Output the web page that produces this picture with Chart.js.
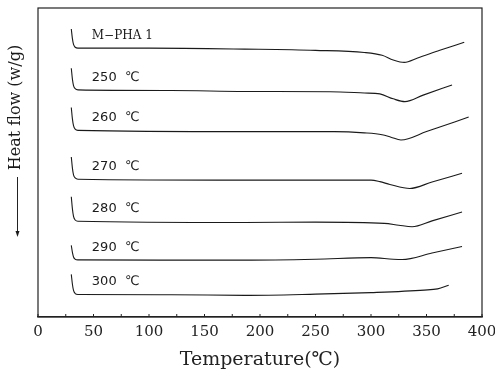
<!DOCTYPE html>
<html>
<head>
<meta charset="utf-8">
<script src="https://cdn.jsdelivr.net/npm/chart.js@4.4.1/dist/chart.umd.min.js"></script>
<style>
  html, body { margin: 0; padding: 0; background: #fff; }
  #wrap { width: 495px; height: 371px; }
</style>
</head>
<body>
<div id="wrap"><canvas id="dscChart"></canvas></div>
<script>
// DSC heating scans, curves stacked with an arbitrary heat-flow offset
const sampleNames = ['M\u2212PHA 1', '250  \u2103', '260  \u2103', '270  \u2103', '280  \u2103', '290  \u2103', '300  \u2103'];

const mpha1Temp = [30, 31, 32, 33.5, 36, 100, 186, 250, 294, 310, 320, 330, 342, 362, 384];
const mpha1Flow = [93.2, 90.1, 88.2, 87.3, 87.0, 87.0, 86.7, 86.3, 85.6, 84.7, 83.2, 82.4, 83.8, 86.3, 88.9];

const t250Temp = [30, 31, 32, 33.5, 36, 120, 186, 263, 294, 308, 320, 330.5, 347, 373];
const t250Flow = [80.5, 77.0, 74.9, 73.9, 73.5, 73.3, 73.0, 72.9, 72.5, 72.2, 70.6, 69.7, 71.8, 75.1];

const t260Temp = [30, 31, 32, 33.5, 36, 186, 267, 294, 310, 318, 327, 350, 388];
const t260Flow = [67.8, 64.1, 61.9, 60.8, 60.4, 60.0, 60.0, 59.6, 59.0, 58.2, 57.3, 60.0, 64.7];

const t270Temp = [30, 31, 32, 33.5, 36, 186, 300, 308, 317, 335, 355, 382];
const t270Flow = [51.8, 48.2, 46.0, 45.0, 44.6, 44.3, 44.3, 43.8, 42.9, 41.6, 43.7, 46.5];

const t280Temp = [30, 31, 32, 33.5, 36, 186, 250, 312, 325, 337, 355, 382];
const t280Flow = [38.9, 35.0, 32.6, 31.4, 31.0, 30.6, 30.7, 30.3, 29.7, 29.2, 31.1, 34.0];

const t290Temp = [30, 31, 32, 33.5, 36, 120, 186, 250, 300, 320, 328, 355, 382];
const t290Flow = [23.2, 20.9, 19.4, 18.7, 18.5, 18.4, 18.4, 18.7, 19.2, 18.7, 18.6, 20.7, 22.8];

const t300Temp = [30, 31, 32, 33.5, 36, 120, 186, 250, 300, 348, 360, 370];
const t300Flow = [13.8, 10.6, 8.6, 7.6, 7.3, 7.2, 7.0, 7.4, 7.9, 8.7, 9.1, 10.3];

const xTickLabels = [0, 50, 100, 150, 200, 250, 300, 350, 400];

const curveTemps = [mpha1Temp, t250Temp, t260Temp, t270Temp, t280Temp, t290Temp, t300Temp];
const curveFlows = [mpha1Flow, t250Flow, t260Flow, t270Flow, t280Flow, t290Flow, t300Flow];

const datasets = curveTemps.map((temps, i) => ({
  label: sampleNames[i],
  data: temps.map((t, j) => ({ x: t, y: curveFlows[i][j] })),
  borderColor: '#1a1a1a',
  borderWidth: 1.1,
  pointRadius: 0,
  fill: false,
  cubicInterpolationMode: 'monotone'
}));

// frame, inward minor ticks, curve labels and the rotated heat-flow title with arrow
const decorations = {
  id: 'decorations',
  afterDatasetsDraw(chart) {
    const { ctx, chartArea: a, scales } = chart;
    ctx.save();
    ctx.strokeStyle = '#222';
    ctx.lineWidth = 1.2;
    ctx.strokeRect(a.left, a.top, a.right - a.left, a.bottom - a.top);

    ctx.lineWidth = 1;
    scales.x.ticks.forEach(tk => {
      const px = scales.x.getPixelForValue(tk.value);
      ctx.beginPath();
      ctx.moveTo(px, a.bottom);
      ctx.lineTo(px, a.bottom - 3);
      ctx.stroke();
    });

    ctx.fillStyle = '#1a1a1a';
    ctx.textBaseline = 'middle';
    ctx.textAlign = 'left';
    sampleNames.forEach((name, i) => {
      ctx.font = i === 0 ? '12px "DejaVu Serif"' : '13px "DejaVu Sans"';
      const px = scales.x.getPixelForValue(48.5);
      const py = scales.y.getPixelForValue(curveFlows[i][4] + 4);
      ctx.fillText(name, px, py);
    });

    // y title
    ctx.save();
    ctx.translate(16, 107.5);
    ctx.rotate(-Math.PI / 2);
    ctx.font = '16px "DejaVu Serif"';
    ctx.textAlign = 'center';
    ctx.fillText('Heat flow (w/g)', 0, 0);
    ctx.restore();

    ctx.beginPath();
    ctx.moveTo(17.5, 177);
    ctx.lineTo(17.5, 232);
    ctx.stroke();
    ctx.beginPath();
    ctx.moveTo(15.5, 231);
    ctx.lineTo(19.5, 231);
    ctx.lineTo(17.5, 237);
    ctx.closePath();
    ctx.fill();
    ctx.restore();
  }
};

const ctx = document.getElementById('dscChart').getContext('2d');
new Chart(ctx, {
  type: 'line',
  data: { datasets },
  plugins: [decorations],
  options: {
    animation: false,
    responsive: true,
    maintainAspectRatio: false,
    layout: { padding: { left: 38, top: 8, right: 13, bottom: 0 } },
    plugins: {
      legend: { display: false },
      tooltip: { enabled: false }
    },
    scales: {
      x: {
        type: 'linear',
        min: 0,
        max: 400,
        afterFit: scale => {
          scale.height = 54;
          scale.paddingLeft = 0;
          scale.paddingRight = 0;
        },
        grid: { drawOnChartArea: false, drawTicks: false },
        border: { display: true, color: '#222', width: 1.2 },
        ticks: {
          stepSize: 25,
          autoSkip: false,
          maxRotation: 0,
          padding: 6,
          color: '#222',
          font: { family: 'DejaVu Serif', size: 15 },
          callback: v => (xTickLabels.includes(v) ? String(v) : '')
        },
        title: {
          display: true,
          text: 'Temperature(\u2103)',
          color: '#222',
          font: { family: 'DejaVu Serif', size: 19 },
          padding: { top: 0, bottom: 0 }
        }
      },
      y: {
        display: false,
        min: 0,
        max: 100
      }
    }
  }
});
</script>
</body>
</html>
